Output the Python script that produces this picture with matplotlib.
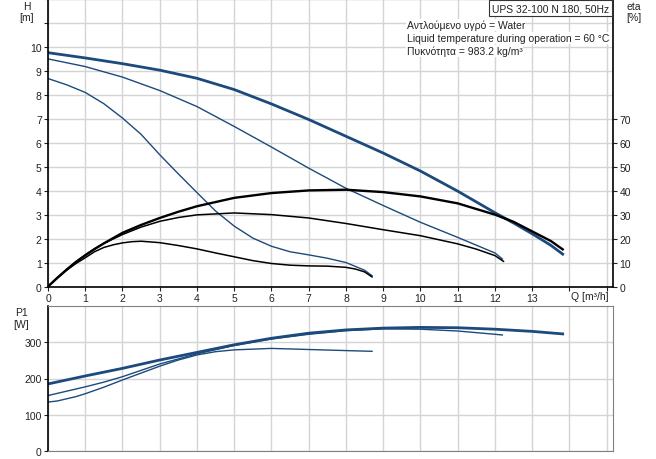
import matplotlib
matplotlib.use('agg')
import matplotlib.pyplot as plt

plt.rcParams['font.family'] = ['Liberation Sans', 'DejaVu Sans']

# ---- pump curves ----
# speed 3 (max)
q3_h = [0, 1, 2, 3, 4, 5, 6, 7, 8, 9, 10, 11, 12, 12.5, 13, 13.5, 13.82]
h3 = [9.76, 9.54, 9.3, 9.03, 8.69, 8.22, 7.62, 6.97, 6.27, 5.57, 4.82, 3.98, 3.08, 2.65, 2.2, 1.72, 1.35]
q3_e = [0, 0.25, 0.5, 0.75, 1, 1.25, 1.5, 2, 2.5, 3, 3.5, 4, 5, 6, 7, 8, 9, 10, 11, 12, 12.5, 13, 13.5, 13.82]
eta3 = [0, 3.6, 7, 10.2, 13, 15.6, 18, 22.4, 25.7, 28.6, 31.2, 33.5, 37, 39, 40.1, 40.4, 39.4, 37.6,
        34.7, 30, 27, 23, 19, 15.5]
q3_p = [0, 1, 2, 3, 4, 5, 6, 7, 8, 9, 10, 11, 12, 13, 13.82]
p3 = [185, 207, 228, 251, 272, 293, 311, 325, 334, 339, 341, 340, 336, 330, 323]

# speed 2
q2_h = [0, 1, 2, 3, 4, 5, 6, 7, 8, 9, 10, 11, 12, 12.2]
h2 = [9.5, 9.18, 8.74, 8.18, 7.51, 6.68, 5.82, 4.94, 4.1, 3.38, 2.68, 2.05, 1.4, 1.15]
q2_e = [0, 0.25, 0.5, 0.75, 1, 1.25, 1.5, 2, 2.5, 3, 3.5, 4, 5, 6, 7, 8, 9, 10, 11, 11.5, 12, 12.23]
eta2 = [0, 3.7, 7.2, 10.4, 13.2, 15.8, 18, 21.7, 24.8, 27.2, 28.8, 29.9, 30.7, 30, 28.6, 26.3, 23.7,
        21.2, 17.8, 15.6, 12.9, 10.5]
q2_p = [0, 0.5, 1, 1.5, 2, 3, 4, 5, 6, 7, 8, 9, 10, 11, 12, 12.2]
p2 = [153, 165, 177, 190, 205, 240, 268, 291, 309, 322, 332, 337, 336, 331, 322, 320]

# speed 1
q1_h = [0, 0.5, 1, 1.5, 2, 2.5, 3, 3.5, 4, 4.5, 5, 5.5, 6, 6.5, 7, 7.5, 8, 8.5, 8.7]
h1 = [8.68, 8.42, 8.1, 7.63, 7.03, 6.35, 5.5, 4.7, 3.92, 3.15, 2.52, 2.02, 1.68, 1.45, 1.32, 1.18, 1.0, 0.68, 0.45]
q1_e = [0, 0.25, 0.5, 0.75, 1, 1.25, 1.5, 1.75, 2, 2.25, 2.5, 3, 3.5, 4, 4.5, 5, 5.5, 6, 6.5, 7,
        7.5, 8, 8.25, 8.5, 8.7]
eta1 = [0, 3.5, 6.8, 9.6, 12, 14.5, 16.3, 17.4, 18.2, 18.7, 18.9, 18.3, 17.1, 15.7, 14, 12.4, 10.8,
        9.6, 8.9, 8.6, 8.5, 8.0, 7.3, 6.1, 4]
q1_p = [0, 0.25, 0.5, 0.75, 1, 1.5, 2, 2.5, 3, 3.5, 4, 4.5, 5, 6, 7, 8, 8.7]
p1 = [135, 138, 144, 150, 158, 176, 196, 215, 234, 251, 265, 274, 279, 283, 280, 277, 275]

q_ticks = list(range(16))
q_labels = [str(i) for i in range(14)] + ['', '']
h_ticks = list(range(13))
h_labels = [str(i) for i in range(11)] + ['', '']
eta_ticks = [0, 10, 20, 30, 40, 50, 60, 70]
p_ticks = [0, 100, 200, 300]

info_lines = ['Αντλούμενο υγρό = Water',
              'Liquid temperature during operation = 60 °C',
              'Πυκνότητα = 983.2 kg/m³']
title = 'UPS 32-100 N 180, 50Hz'

BLUE = '#1d4a7c'
GRID = '#d4d4d4'
FS = 7.5
W, H = 656, 460


def frac(px, py):
    return px / W, 1 - py / H


fig = plt.figure(figsize=(6.56, 4.6), dpi=100)

# top: Q-H with eta on the right
ax = fig.add_axes([48 / W, 1 - 287.5 / H, 565 / W, 287.5 / H])
ax.set_xlim(0, 15.17)
ax.set_ylim(0, 12)
ax.set_xticks(q_ticks)
ax.set_xticklabels(q_labels)
ax.set_yticks(h_ticks)
ax.set_yticklabels(h_labels)
ax.grid(True, color=GRID, lw=1)
ax.set_axisbelow(True)
ax.tick_params(labelsize=FS, length=3, width=0.8, pad=1.5, colors='#222222')
ax.spines['top'].set_color('#999999')
ax.spines['left'].set_linewidth(1.2)
ax.spines['bottom'].set_linewidth(1.2)
ax.spines['right'].set_visible(False)

ax.plot(q1_h, h1, color=BLUE, lw=1.0)
ax.plot(q2_h, h2, color=BLUE, lw=1.0)
ax.plot(q3_h, h3, color=BLUE, lw=2.0)

ax2 = ax.twinx()
ax2.set_ylim(0, 120)
ax2.set_yticks(eta_ticks)
ax2.tick_params(labelsize=FS, length=3, width=0.8, pad=1.5, colors='#222222')
ax2.spines['right'].set_linewidth(1.2)
ax2.spines['top'].set_visible(False)
ax2.spines['left'].set_visible(False)
ax2.spines['bottom'].set_visible(False)
ax2.plot(q1_e, eta1, color='black', lw=1.1)
ax2.plot(q2_e, eta2, color='black', lw=1.1)
ax2.plot(q3_e, eta3, color='black', lw=1.7)

# bottom: P1
axp = fig.add_axes([48 / W, 1 - 452 / H, 565 / W, 145 / H])
axp.set_xlim(0, 15.17)
axp.set_ylim(0, 400)
axp.set_xticks(q_ticks)
axp.set_yticks(p_ticks)
axp.grid(True, color=GRID, lw=1)
axp.set_axisbelow(True)
axp.tick_params(axis='x', length=0, labelbottom=False)
axp.tick_params(axis='y', labelsize=FS, length=3, width=0.8, pad=1.5, colors='#222222')
for s in ['top', 'right', 'bottom']:
    axp.spines[s].set_color('#808080')
axp.spines['left'].set_linewidth(1.2)
axp.plot(q1_p, p1, color=BLUE, lw=1.0)
axp.plot(q2_p, p2, color=BLUE, lw=1.0)
axp.plot(q3_p, p3, color=BLUE, lw=2.0)

# axis captions
cap = dict(fontsize=FS, ha='center', va='center', color='#222222')
fig.text(*frac(27, 7), 'H', **cap)
fig.text(*frac(27, 18), '[m]', **cap)
fig.text(*frac(634, 7), 'eta', **cap)
fig.text(*frac(634, 18), '[%]', **cap)
fig.text(*frac(21, 313), 'P1', **cap)
fig.text(*frac(21, 325), '[W]', **cap)
fig.text(*frac(590, 297), 'Q [m³/h]', **cap)

fig.text(*frac(609, 9), title, fontsize=FS, ha='right', va='center', color='#222222',
         bbox=dict(boxstyle='square,pad=0.3', fc='white', ec='#333333', lw=0.8))
for i, line in enumerate(info_lines):
    fig.text(*frac(407, 26 + 13 * i), line, fontsize=FS, ha='left', va='center',
             color='#222222', bbox=dict(boxstyle='square,pad=0.05', fc='white', ec='none'))

fig.savefig('out.png', dpi=100)
